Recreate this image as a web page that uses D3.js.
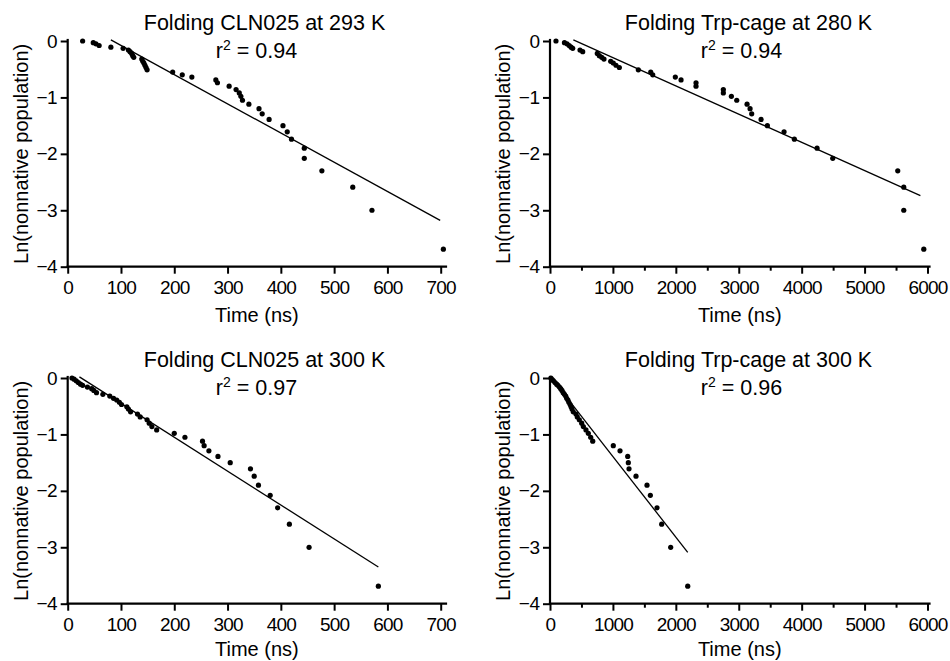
<!DOCTYPE html>
<html><head><meta charset="utf-8">
<script src="https://cdn.jsdelivr.net/npm/d3@7"></script>
<style>
body{margin:0;background:#fff}
text{font-family:"Liberation Sans", Arial, Helvetica, sans-serif;fill:#000}
</style>
</head><body>
<svg id="chart" width="950" height="661"></svg>
<script>
// ---------- data ----------
const cln293Time = [28,48,53,59,81,104,114,117,120,122,124,139,141,143,145,147,149,197,215,233,278,281,303,316,322,325,328,340,359,365,378,404,412,420,444,444,477,535,571,705];
const cln293LnPop = [0,-0.03,-0.05,-0.08,-0.11,-0.13,-0.16,-0.19,-0.22,-0.26,-0.29,-0.32,-0.36,-0.39,-0.43,-0.47,-0.51,-0.55,-0.60,-0.64,-0.69,-0.74,-0.80,-0.86,-0.92,-0.98,-1.05,-1.12,-1.20,-1.29,-1.39,-1.50,-1.61,-1.74,-1.90,-2.08,-2.30,-2.59,-3.00,-3.69];
const cln293FitTime = [81, 699];
const cln293FitLn = [0.02, -3.18];

const trp280Time = [95,230,270,305,335,361,477,520,752,784,822,858,965,1006,1049,1102,1404,1601,1633,1992,2083,2321,2321,2755,2755,2883,2968,3132,3180,3206,3355,3455,3720,3884,4245,4494,5527,5623,5623,5941];
const trp280LnPop = [0,-0.03,-0.05,-0.08,-0.11,-0.13,-0.16,-0.19,-0.22,-0.26,-0.29,-0.32,-0.36,-0.39,-0.43,-0.47,-0.51,-0.55,-0.60,-0.64,-0.69,-0.74,-0.80,-0.86,-0.92,-0.98,-1.05,-1.12,-1.20,-1.29,-1.39,-1.50,-1.61,-1.74,-1.90,-2.08,-2.30,-2.59,-3.00,-3.69];
const trp280FitTime = [371, 5887];
const trp280FitLn = [0.02, -2.74];

const cln300Time = [8,12,16,20,24,28,37,45,49,54,66,79,86,92,97,101,111,114,118,131,136,149,153,158,167,200,220,253,256,265,282,305,343,350,358,380,394,416,453,583];
const cln300LnPop = [0,-0.02,-0.05,-0.08,-0.11,-0.13,-0.16,-0.19,-0.22,-0.26,-0.29,-0.32,-0.36,-0.39,-0.43,-0.47,-0.51,-0.55,-0.60,-0.64,-0.69,-0.74,-0.80,-0.86,-0.92,-0.98,-1.05,-1.12,-1.20,-1.29,-1.39,-1.50,-1.61,-1.74,-1.90,-2.08,-2.30,-2.59,-3.00,-3.69];
const cln300FitTime = [22, 583];
const cln300FitLn = [0.02, -3.35];

const trp300Time = [15,35,55,80,105,125,150,170,190,210,230,250,265,285,300,320,335,350,370,413,434,466,504,530,572,609,647,679,1006,1113,1235,1245,1256,1367,1542,1595,1701,1775,1918,2189];
const trp300LnPop = [0,-0.03,-0.05,-0.08,-0.11,-0.13,-0.16,-0.19,-0.22,-0.26,-0.29,-0.32,-0.36,-0.39,-0.43,-0.47,-0.51,-0.55,-0.60,-0.64,-0.69,-0.74,-0.80,-0.86,-0.92,-0.98,-1.05,-1.12,-1.20,-1.29,-1.39,-1.50,-1.61,-1.74,-1.90,-2.08,-2.30,-2.59,-3.00,-3.69];
const trp300FitTime = [60, 2189];
const trp300FitLn = [-0.05, -3.09];

const titles = ["Folding CLN025 at 293 K", "Folding Trp-cage at 280 K", "Folding CLN025 at 300 K", "Folding Trp-cage at 300 K"];
const r2Values = ["0.94", "0.94", "0.97", "0.96"];
const clnTicks = [0,100,200,300,400,500,600,700];
const trpTicks = [0,1000,2000,3000,4000,5000,6000];
const trpMinorTicks = [500,1500,2500,3500,4500,5500];
const yTicks = [0,-1,-2,-3,-4];
const xLabel = "Time (ns)";
const yLabel = "Ln(nonnative population)";

// ---------- layout ----------
const cols = [{x0:67.7, x1:440.7, end:446, tcx:264.5, rcx:256.5},
              {x0:550, x1:927.5, end:929.5, tcx:748.5, rcx:741.5}];
const rows = [{y0:41, y4:266.7, tb:29.5, rb:57.5, xl:321.5},
              {y0:378, y4:603.7, tb:366.5, rb:394.5, xl:655.5}];

const panels = [
  {t:cln293Time, v:cln293LnPop, ft:cln293FitTime, fv:cln293FitLn, xMax:700, ticks:clnTicks, minor:[], col:0, row:0},
  {t:trp280Time, v:trp280LnPop, ft:trp280FitTime, fv:trp280FitLn, xMax:6000, ticks:trpTicks, minor:trpMinorTicks, col:1, row:0},
  {t:cln300Time, v:cln300LnPop, ft:cln300FitTime, fv:cln300FitLn, xMax:700, ticks:clnTicks, minor:[], col:0, row:1},
  {t:trp300Time, v:trp300LnPop, ft:trp300FitTime, fv:trp300FitLn, xMax:6000, ticks:trpTicks, minor:trpMinorTicks, col:1, row:1}
];

const svg = d3.select("#chart");
svg.append("rect").attr("width",950).attr("height",661).attr("fill","#fff");

panels.forEach((p, i) => {
  const c = cols[p.col], r = rows[p.row];
  const x = d3.scaleLinear().domain([0, p.xMax]).range([c.x0, c.x1]);
  const y = d3.scaleLinear().domain([0, -4]).range([r.y0, r.y4]);
  const g = svg.append("g");

  // x axis
  const gx = g.append("g").attr("transform", `translate(0,${r.y4})`)
    .call(d3.axisBottom(x).tickValues(p.ticks).tickSize(7).tickSizeOuter(0).tickFormat(d3.format("d")));
  gx.select(".domain").attr("d", `M${c.x0},0H${c.end}`);
  if (p.minor.length) {
    const gm = g.append("g").attr("transform", `translate(0,${r.y4})`)
      .call(d3.axisBottom(x).tickValues(p.minor).tickSize(4).tickFormat(""));
    gm.select(".domain").remove();
    gm.selectAll("line").attr("stroke","#000").attr("stroke-width",2);
  }
  gx.selectAll(".tick text").attr("y", 27.3).attr("dy", 0)
    .style("font-size","19px").style("letter-spacing","-0.8px");

  // y axis
  const gy = g.append("g").attr("transform", `translate(${c.x0},0)`)
    .call(d3.axisLeft(y).tickValues(yTicks).tickSize(7).tickSizeOuter(0).tickPadding(3.5).tickFormat(d3.format("d")));
  gy.select(".domain").attr("d", `M0,${r.y0 - 1}V${r.y4}`);
  gy.selectAll(".tick text").style("font-size","19px").style("letter-spacing","-0.5px");

  [gx, gy].forEach(a => {
    a.select(".domain").attr("stroke","#000").attr("stroke-width",2.2).attr("stroke-linecap","square");
    a.selectAll(".tick line").attr("stroke","#000").attr("stroke-width",2);
    a.selectAll(".tick text").attr("fill","#000");
    a.attr("font-family", null).attr("font-size", null);
  });

  // fit line
  const fit = p.ft.map((t, k) => [t, p.fv[k]]);
  g.append("path").datum(fit)
    .attr("d", d3.line().x(d => x(d[0])).y(d => y(d[1])))
    .attr("fill","none").attr("stroke","#000").attr("stroke-width",1.3);

  // points
  g.selectAll("circle.pt").data(p.t.map((t, k) => [t, p.v[k]])).join("circle")
    .attr("class","pt").attr("cx", d => x(d[0])).attr("cy", d => y(d[1]))
    .attr("r", 2.6).attr("fill","#000");

  // title
  g.append("text").attr("x", c.tcx).attr("y", r.tb).attr("text-anchor","middle")
    .style("font-size","21.5px").text(titles[i]);
  // r^2
  const rt = g.append("text").attr("x", c.rcx).attr("y", r.rb).attr("text-anchor","middle")
    .style("font-size","21.5px");
  rt.append("tspan").text("r");
  rt.append("tspan").attr("dy", -8).style("font-size","14px").text("2");
  rt.append("tspan").attr("dy", 8).text(" = " + r2Values[i]);

  // axis titles
  g.append("text").attr("x", (c.x0 + c.end) / 2).attr("y", r.xl).attr("text-anchor","middle")
    .style("font-size","20px").text(xLabel);
  g.append("text").attr("transform", `translate(${c.x0 - 39.7},${(r.y0 + r.y4) / 2}) rotate(-90)`)
    .attr("text-anchor","middle").style("font-size","20px").text(yLabel);
});
</script>
</body></html>
